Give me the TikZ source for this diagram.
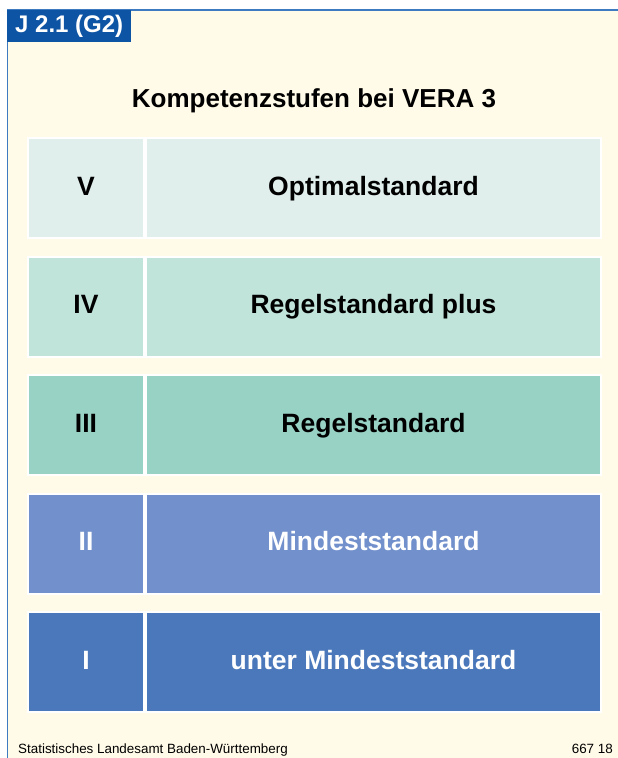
\documentclass[tikz,border=0pt]{standalone}
\usepackage{fontspec}
\setmainfont{Liberation Sans}
\definecolor{cream}{RGB}{255,251,232}
\definecolor{tagblue}{RGB}{14,84,164}
\definecolor{rimblue}{RGB}{62,122,192}
\definecolor{stufeV}{RGB}{224,239,236}
\definecolor{stufeIV}{RGB}{192,227,218}
\definecolor{stufeIII}{RGB}{152,210,197}
\definecolor{stufeII}{RGB}{114,144,203}
\definecolor{stufeI}{RGB}{74,120,186}
\tikzset{
  cell/.style={draw=white,line width=2pt,inner sep=0pt,minimum height=100pt,
    text height=1.65em,text depth=0.2em,
    font=\fontsize{26.5}{30}\selectfont\bfseries},
  lvlcell/.style={cell,minimum width=116pt},
  txtcell/.style={cell,minimum width=455pt}
}
\begin{document}
\begin{tikzpicture}[x=1pt,y=-1pt]
  \useasboundingbox (0,0) rectangle (618,758);
  % background and frame
  \fill[white] (0,0) rectangle (618,758);
  \fill[cream] (7.5,10) rectangle (618,758);
  \draw[rimblue,line width=1.5pt] (7.5,758) -- (7.5,10) -- (618,10);
  % tag
  \node[fill=tagblue,text=white,anchor=north west,minimum width=124pt,minimum height=32pt,
    inner sep=0pt,font=\fontsize{24}{28}\selectfont\bfseries] (tag) at (7,10) {J 2.1 (G2)};
  % title
  \node[font=\fontsize{26}{30}\selectfont\bfseries] (title) at (314,101) {Kompetenzstufen bei VERA 3};
  % levels
  \foreach \lvl/\name/\col/\ink [count=\i from 0] in
    {V/Optimalstandard/stufeV/black,
     IV/Regelstandard plus/stufeIV/black,
     III/Regelstandard/stufeIII/black,
     II/Mindeststandard/stufeII/white,
     I/unter Mindeststandard/stufeI/white}
  {
    \node[lvlcell,fill=\col,text=\ink] (lvl\i) at (86,188+118.5*\i) {\lvl};
    \node[txtcell,fill=\col,text=\ink] (txt\i) at (373.5,188+118.5*\i) {\name};
  }
  % footer
  \node[anchor=base west,inner sep=0pt,font=\fontsize{13.4}{16}\selectfont] (src) at (18,753) {Statistisches Landesamt Baden-Württemberg};
  \node[anchor=base east,inner sep=0pt,font=\fontsize{13.4}{16}\selectfont] (num) at (613,753) {667 18};
\end{tikzpicture}
\end{document}
